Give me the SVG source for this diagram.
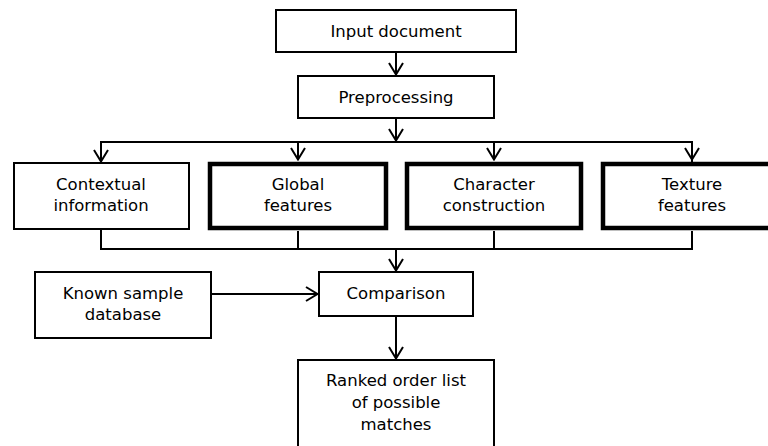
<svg xmlns="http://www.w3.org/2000/svg" width="768" height="446" viewBox="0 0 768 446">
<defs>
<style>
.b{fill:#fff;stroke:#000;stroke-width:2}
.k{fill:#fff;stroke:#000;stroke-width:4.5}
.t{font-family:"DejaVu Sans",sans-serif;font-size:16.5px;fill:#000;text-anchor:middle}
.c{fill:none;stroke:#000;stroke-width:2}
</style>
<marker id="a" viewBox="0 0 14 16" refX="13" refY="8" markerWidth="14" markerHeight="16" markerUnits="userSpaceOnUse" orient="auto">
<path d="M1,1 L12.5,8 L1,15" fill="none" stroke="#000" stroke-width="2"/>
</marker>
</defs>
<rect width="768" height="446" fill="#fff"/>
<g id="connectors">
<line class="c" x1="396" y1="53" x2="396" y2="75" marker-end="url(#a)"/>
<line class="c" x1="396" y1="119" x2="396" y2="141" marker-end="url(#a)"/>
<polyline class="c" points="101,162 101,142 692,142 692,162"/>
<line class="c" x1="101" y1="142" x2="101" y2="162" marker-end="url(#a)"/>
<line class="c" x1="298" y1="142" x2="298" y2="160" marker-end="url(#a)"/>
<line class="c" x1="494" y1="142" x2="494" y2="160" marker-end="url(#a)"/>
<line class="c" x1="692" y1="142" x2="692" y2="160" marker-end="url(#a)"/>
<polyline class="c" points="101,230 101,249 692,249 692,231"/>
<line class="c" x1="298" y1="231" x2="298" y2="249"/>
<line class="c" x1="494" y1="231" x2="494" y2="249"/>
<line class="c" x1="396" y1="249" x2="396" y2="271" marker-end="url(#a)"/>
<line class="c" x1="212" y1="294" x2="318" y2="294" marker-end="url(#a)"/>
<line class="c" x1="396" y1="317" x2="396" y2="359" marker-end="url(#a)"/>
</g>
<g id="input"><rect class="b" x="276" y="10" width="240" height="42"/><text class="t" x="396" y="37">Input document</text></g>
<g id="preprocessing"><rect class="b" x="298" y="76" width="196" height="42"/><text class="t" x="396" y="103">Preprocessing</text></g>
<g id="contextual"><rect class="b" x="14" y="163" width="175" height="66"/><text class="t" x="101" y="190">Contextual</text><text class="t" x="101" y="211">information</text></g>
<g id="global"><rect class="k" x="210" y="164" width="176" height="64"/><text class="t" x="298" y="190">Global</text><text class="t" x="298" y="211">features</text></g>
<g id="character"><rect class="k" x="407" y="164" width="174" height="64"/><text class="t" x="494" y="190">Character</text><text class="t" x="494" y="211">construction</text></g>
<g id="texture"><rect class="k" x="603" y="164" width="178" height="64"/><text class="t" x="692" y="190">Texture</text><text class="t" x="692" y="211">features</text></g>
<g id="known"><rect class="b" x="35" y="272" width="176" height="66"/><text class="t" x="123" y="299">Known sample</text><text class="t" x="123" y="320">database</text></g>
<g id="comparison"><rect class="b" x="319" y="272" width="154" height="44"/><text class="t" x="396" y="299">Comparison</text></g>
<g id="ranked"><rect class="b" x="298" y="360" width="196" height="100"/><text class="t" x="396" y="386">Ranked order list</text><text class="t" x="396" y="408">of possible</text><text class="t" x="396" y="430">matches</text></g>
</svg>
